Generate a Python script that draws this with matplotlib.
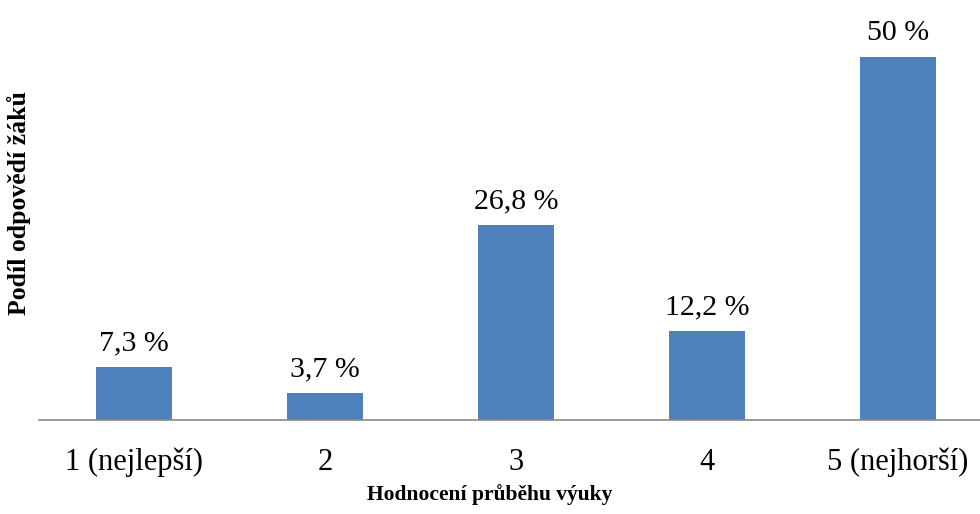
import matplotlib.pyplot as plt

categories = ["1 (nejlepší)", "2", "3", "4", "5 (nejhorší)"]
values = [7.3, 3.7, 26.8, 12.2, 50.0]
labels = ["7,3 %", "3,7 %", "26,8 %", "12,2 %", "50 %"]

plt.rcParams['font.family'] = ['Liberation Serif', 'DejaVu Serif']

fig = plt.figure(figsize=(9.8, 5.14), dpi=100)
# axes: baseline at y=420 px, 50 % at y=57 px
bottom = (514 - 420) / 514
top_px = 420 - 55 * (363 / 50)
ax = fig.add_axes([38.5 / 980, bottom, 955 / 980, (420 - top_px) / 514])

x = range(len(categories))
bars = ax.bar(x, values, width=0.4, color='#4F81BD')
ax.set_xlim(-0.5, 4.5)
ax.set_ylim(0, 55)

for bar, lab in zip(bars, labels):
    ax.annotate(lab, (bar.get_x() + bar.get_width() / 2, bar.get_height()),
                xytext=(0, 8), textcoords='offset points',
                ha='center', va='bottom', fontsize=21.5)

ax.set_xticks(list(x))
ax.set_xticklabels(categories, fontsize=22)
ax.tick_params(axis='x', length=0, pad=20)
ax.set_yticks([])
for s in ['top', 'right', 'left']:
    ax.spines[s].set_visible(False)
ax.spines['bottom'].set_color('#888888')
ax.spines['bottom'].set_linewidth(1.2)

fig.text(490 / 980, 1 - 495 / 514, "Hodnocení průběhu výuky", ha='center', va='center',
         fontsize=15.5, fontweight='bold')
fig.text(19 / 980, 1 - 203 / 514, "Podíl odpovědí žáků", ha='center', va='center',
         rotation=90, fontsize=18.5, fontweight='bold')

fig.savefig('out.png', dpi=100)
